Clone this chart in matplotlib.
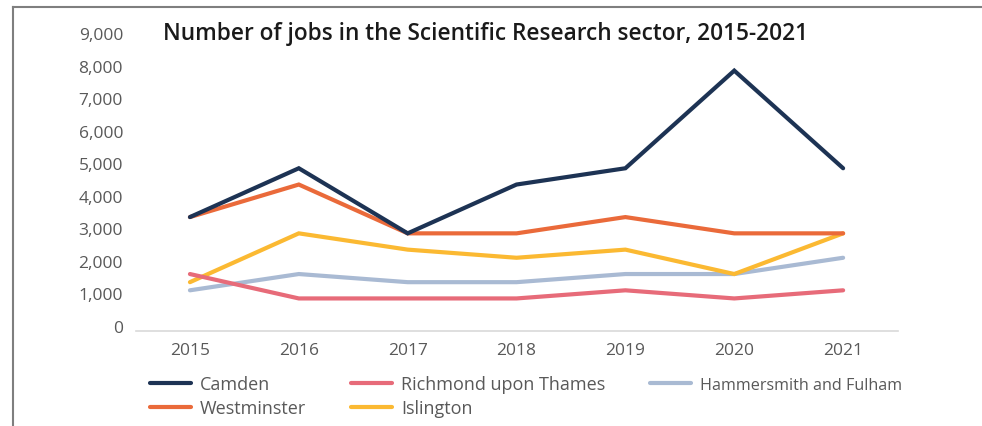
#!/usr/bin/env python3

import matplotlib
matplotlib.use("Agg")
import matplotlib.pyplot as plt
import matplotlib.transforms as mtransforms
from matplotlib.lines import Line2D


years = ["2015", "2016", "2017", "2018", "2019", "2020", "2021"]

camden = [3500, 5000, 3000, 4500, 5000, 8000, 5000]
westminster = [3500, 4500, 3000, 3000, 3500, 3000, 3000]
richmond = [1750, 1000, 1000, 1000, 1250, 1000, 1250]
islington = [1500, 3000, 2500, 2250, 2500, 1750, 3000]
hammersmith = [1250, 1750, 1500, 1500, 1750, 1750, 2250]

yticks = [0, 1000, 2000, 3000, 4000, 5000, 6000, 7000, 8000, 9000]


plt.rcParams['font.family'] = ['Open Sans', 'DejaVu Sans']

fig = plt.figure(figsize=(9.82, 4.27), dpi=100)
ax = fig.add_axes([0.138, 0.2225, 0.776, 0.686])

x = range(len(years))
series = [
  ("Camden", camden, "#1d3354"),
  ("Westminster", westminster, "#ea6a3a"),
  ("Richmond upon Thames", richmond, "#e76b79"),
  ("Islington", islington, "#fbb932"),
  ("Hammersmith and Fulham", hammersmith, "#a9bad3"),
]
# draw back to front so Camden sits on top
for name, vals, col in series[::-1]:
  ax.plot(x, vals, color=col, lw=3.0, solid_capstyle='round',
          solid_joinstyle='miter', label=name)

ax.set_xlim(-0.5, len(years) - 0.5)
ax.set_ylim(0, 9000)
ax.set_xticks(list(x))
ax.set_xticklabels(years)
ax.set_yticks(yticks)
ax.set_yticklabels([f"{v:,}" for v in yticks])
ax.tick_params(length=0, labelsize=12.5, colors="#595959", pad=9)
ax.tick_params(axis='x', pad=8)

# y labels sit a little above their values in the original
off = mtransforms.ScaledTranslation(0, 5/100, fig.dpi_scale_trans)
for lab in ax.get_yticklabels():
  lab.set_transform(lab.get_transform() + off)

for s in ['top', 'right', 'left']:
  ax.spines[s].set_visible(False)
ax.spines['bottom'].set_color("#d9d9d9")
ax.spines['bottom'].set_linewidth(1.2)

fig.text(0.494, 0.92, "Number of jobs in the Scientific Research sector, 2015-2021",
         ha='center', va='center', fontsize=16.3, fontweight='semibold', color="#1a1a1a")

handles, labels = ax.get_legend_handles_labels()
handles, labels = handles[::-1], labels[::-1]
leg = fig.legend(handles, labels, ncol=3, loc='upper left',
                 bbox_to_anchor=(0.145, 0.136), frameon=False,
                 fontsize=13, handlelength=2.3, columnspacing=2.45,
                 labelspacing=0.33, handletextpad=0.5, borderaxespad=0)
for t in leg.get_texts():
  t.set_color("#595959")
# the last entry is set a bit smaller in the original
leg.get_texts()[-1].set_fontsize(11.6)

# outer frame lines, left and top
fig.add_artist(Line2D([13/982, 13/982], [0, 1 - 8/427], transform=fig.transFigure,
                      color="#7f7f7f", lw=1.5))
fig.add_artist(Line2D([13/982, 1], [1 - 8/427, 1 - 8/427], transform=fig.transFigure,
                      color="#7f7f7f", lw=1.5))

fig.savefig("out.png", dpi=100)
